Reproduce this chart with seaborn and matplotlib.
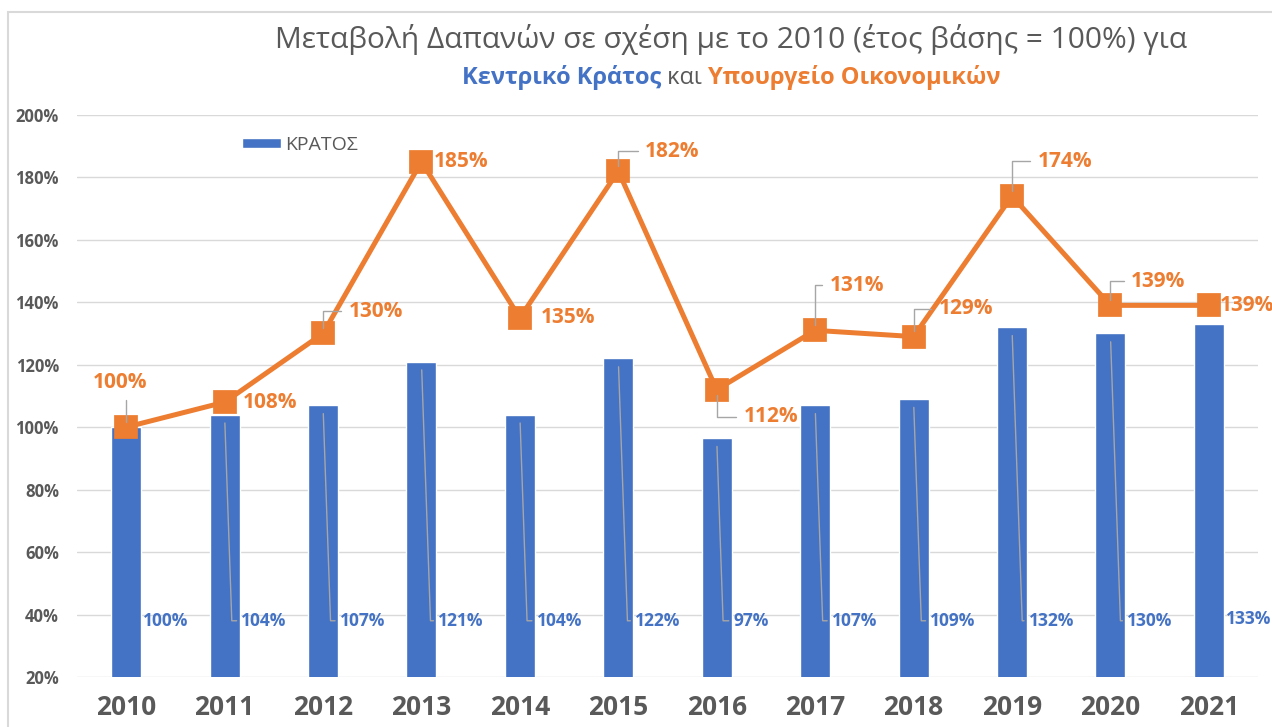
import matplotlib
matplotlib.use("Agg")
import matplotlib.pyplot as plt
import seaborn as sns
import numpy as np
import pandas as pd
from matplotlib.patches import Rectangle

years = ["2010", "2011", "2012", "2013", "2014", "2015",
         "2016", "2017", "2018", "2019", "2020", "2021"]
kratos = [100, 104, 107, 121, 104, 122, 96.5, 107, 109, 132, 130, 133]
kratos_labels = ["100%", "104%", "107%", "121%", "104%", "122%",
                 "97%", "107%", "109%", "132%", "130%", "133%"]
ministry = [100, 108, 130, 185, 135, 182, 112, 131, 129, 174, 139, 139]
ministry_labels = ["100%", "108%", "130%", "185%", "135%", "182%",
                   "112%", "131%", "129%", "174%", "139%", "139%"]

BLUE = "#4472C4"
ORANGE = "#ED7D31"
GREY_TXT = "#595959"
GRID = "#d9d9d9"

sns.set_theme(style="white")
plt.rcParams["font.family"] = ["Open Sans", "DejaVu Sans"]

df = pd.DataFrame({"year": years, "kratos": kratos, "ministry": ministry})

fig = plt.figure(figsize=(12.72, 7.27), dpi=100)
ax = fig.add_axes([0.0605, 0.0688, 0.9285, 0.7732])

sns.barplot(data=df, x="year", y="kratos", color=BLUE, width=0.305,
            saturation=1, ax=ax, label="ΚΡΑΤΟΣ", zorder=2)
sns.pointplot(data=df, x="year", y="ministry", color=ORANGE, markers="s",
              markersize=15, linewidth=3.6, ax=ax, zorder=4)

ax.set_ylim(20, 200)
ax.set_xlim(-0.5, 11.5)
ax.set_yticks(np.arange(20, 201, 20))
ax.set_yticklabels([f"{v}%" for v in range(20, 201, 20)])
ax.yaxis.grid(True, color=GRID, lw=1, zorder=0)
ax.set_axisbelow(True)
for s in ax.spines.values():
    s.set_visible(False)
ax.set_xlabel("")
ax.set_ylabel("")
ax.tick_params(axis="y", length=0, pad=13, labelsize=12, labelcolor=GREY_TXT)
ax.tick_params(axis="x", length=0, pad=12, labelsize=19, labelcolor=GREY_TXT)
for t in ax.get_yticklabels() + ax.get_xticklabels():
    t.set_fontweight("bold")

# bar labels with grey leader lines (first and last sit right next to the bar)
last = len(kratos) - 1
for i, (v, lab) in enumerate(zip(kratos, kratos_labels)):
    if i in (0, last):
        ax.text(i + 0.17, 38.5 if i == last else 38, lab, color=BLUE,
                fontsize=12.5, fontweight="bold", va="center", ha="left", zorder=5)
        continue
    ax.annotate(lab, xy=(i, v), xytext=(i + 0.17, 38),
                color=BLUE, fontsize=12.5, fontweight="bold", va="center", ha="left",
                arrowprops=dict(arrowstyle="-", color="#a6a6a6", lw=1,
                                connectionstyle="angle,angleA=0,angleB=92,rad=0",
                                shrinkA=1, shrinkB=6), zorder=5)

# line labels (pixel offsets from marker)
offsets = [(-6, 45), (45, 0), (53, 22), (40, 0), (48, 0), (54, 20),
           (54, -27), (42, 45), (52, 28), (53, 35), (48, 24), (38, 0)]
for i, (v, lab) in enumerate(zip(ministry, ministry_labels)):
    dx, dy = offsets[i]
    kw = {}
    if dy != 0:
        kw["arrowprops"] = dict(arrowstyle="-", color="#a6a6a6", lw=1,
                                connectionstyle="angle,angleA=180,angleB=90,rad=0",
                                shrinkA=3, shrinkB=4)
    ax.annotate(lab, xy=(i, v), xytext=(dx, dy), textcoords="offset pixels",
                color=ORANGE, fontsize=15, fontweight="bold", ha="center",
                va="center", zorder=6, annotation_clip=False, **kw)

ax.legend(loc="center left", bbox_to_anchor=(0.125, 0.947), frameon=False,
          fontsize=14, handlelength=2.0, handleheight=0.45, handletextpad=0.2,
          labelcolor=GREY_TXT)

# titles
fig.text(0.575, 0.946, "Μεταβολή Δαπανών σε σχέση με το 2010 (έτος βάσης = 100%) για",
         ha="center", va="center", fontsize=21.5, color=GREY_TXT)

parts = [("Κεντρικό Κράτος", BLUE, "bold"), (" και ", GREY_TXT, "normal"),
         ("Υπουργείο Οικονομικών", ORANGE, "bold")]
renderer = fig.canvas.get_renderer()
texts = []
for s, c, w in parts:
    t = fig.text(0.0, 0.893, s, color=c, fontweight=w, fontsize=17,
                 ha="left", va="center")
    texts.append(t)
widths = [t.get_window_extent(renderer).width / fig.bbox.width for t in texts]
start = 0.575 - sum(widths) / 2
for t, w in zip(texts, widths):
    t.set_x(start)
    start += w

# outer frame
fig.patches.append(Rectangle((8 / 1272, -0.05), 1.1, 1 - 12 / 727 + 0.05,
                             transform=fig.transFigure, fill=False,
                             edgecolor=GRID, lw=1.5))

fig.savefig("out.png", dpi=100)
